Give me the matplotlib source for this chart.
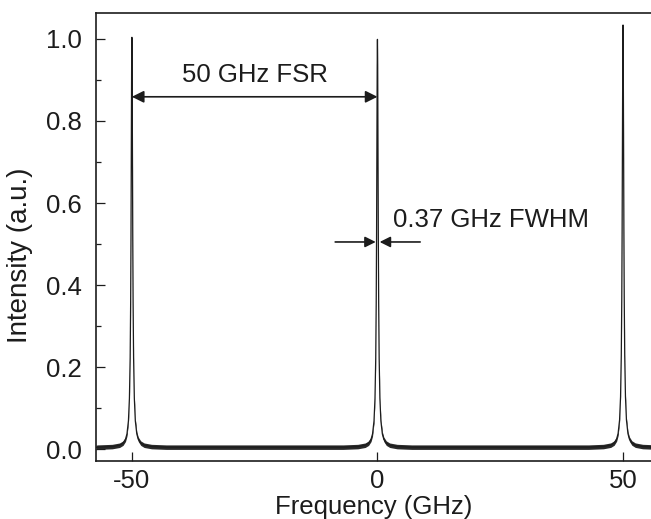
import numpy as np
import matplotlib

matplotlib.use("Agg")
import matplotlib.pyplot as plt
from matplotlib.ticker import MultipleLocator

# Peak positions (GHz) and heights (a.u.)
peak_centers = [-50.0, 0.0, 50.0]
peak_heights = [1.000, 0.995, 1.030]

# Line profile around each peak: offset from centre (GHz) and relative height
line_offsets = [-7.0, -4.0, -2.5, -1.8, -1.3, -1.0, -0.7, -0.5, -0.35, -0.25, -0.18,
                -0.1, -0.05, 0.0, 0.05, 0.1, 0.18, 0.25, 0.35, 0.5, 0.7, 1.0, 1.3,
                1.8, 2.5, 4.0, 7.0]
line_shape = [0.0007, 0.0021, 0.0054, 0.0105, 0.0199, 0.033, 0.065, 0.120, 0.218,
              0.354, 0.514, 0.774, 0.932, 1.0, 0.932, 0.774, 0.514, 0.354, 0.218,
              0.120, 0.065, 0.033, 0.0199, 0.0105, 0.0054, 0.0021, 0.0007]

baseline_level = 0.004
noise_halfwidth = 0.0055
span_edges = [-57.3, 55.7]

fsr_label = "50 GHz FSR"
fwhm_label = "0.37 GHz FWHM"
x_ticks = [-50, 0, 50]
x_ticklabels = ["-50", "0", "50"]
y_ticks = [0.0, 0.2, 0.4, 0.6, 0.8, 1.0]

# Assemble the spectrum from the peaks
freq = [span_edges[0]]
intensity = [baseline_level]
for centre, height in zip(peak_centers, peak_heights):
    for off, rel in zip(line_offsets, line_shape):
        freq.append(centre + off)
        intensity.append(baseline_level + height * rel)
freq.append(span_edges[1])
intensity.append(baseline_level)
freq = np.array(freq)
intensity = np.array(intensity)

plt.rcParams["font.family"] = ["Liberation Sans", "DejaVu Sans"]

fig = plt.figure(figsize=(6.51, 5.19), dpi=100)
ax = fig.add_axes([0.1475, 0.1118, 0.8525, 0.8637])

ink = "#1c1c1c"
fs = 18.5
ax.fill_between(freq, intensity - noise_halfwidth, intensity + noise_halfwidth,
                color="#2a2a2a", linewidth=0)
ax.plot(freq, intensity, color=ink, linewidth=0.9)

ax.set_xlim(span_edges[0], span_edges[1])
ax.set_ylim(-0.029, 1.064)

ax.set_xticks(x_ticks)
ax.set_xticklabels(x_ticklabels)
ax.set_yticks(y_ticks)
ax.set_yticklabels([f"{v:.1f}" for v in y_ticks])
ax.yaxis.set_minor_locator(MultipleLocator(0.1))

ax.tick_params(axis="both", which="major", direction="in", length=6.5, width=0.9,
               labelsize=fs, colors=ink)
ax.tick_params(axis="x", which="major", pad=6)
ax.tick_params(axis="y", which="major", pad=10)
ax.tick_params(axis="y", which="minor", direction="in", length=3.5, width=0.9,
               colors=ink)
ax.tick_params(axis="both", top=False, right=False)

for side in ("left", "bottom", "top"):
    ax.spines[side].set_linewidth(1.2)
    ax.spines[side].set_color(ink)
ax.spines["right"].set_visible(False)

ax.set_xlabel("Frequency (GHz)", fontsize=fs, color=ink, labelpad=1)
ax.set_ylabel("Intensity (a.u.)", fontsize=20, color=ink)
ax.yaxis.set_label_coords(-0.114, 0.458)

# FSR annotation between the first two peaks
fsr_y = 0.859
ax.annotate("", xy=(peak_centers[1], fsr_y), xytext=(peak_centers[0], fsr_y),
            arrowprops=dict(arrowstyle="<|-|>", color=ink, lw=1.2,
                            mutation_scale=18, shrinkA=0, shrinkB=0))
ax.text((peak_centers[0] + peak_centers[1]) / 2, fsr_y + 0.025, fsr_label,
        ha="center", va="bottom", fontsize=fs, color=ink)

# FWHM marker on the centre peak
fwhm_y = 0.505
ax.annotate("", xy=(peak_centers[1] - 0.35, fwhm_y), xytext=(peak_centers[1] - 8.6, fwhm_y),
            arrowprops=dict(arrowstyle="-|>", color=ink, lw=1.2,
                            mutation_scale=16, shrinkA=0, shrinkB=0))
ax.annotate("", xy=(peak_centers[1] + 0.45, fwhm_y), xytext=(peak_centers[1] + 8.7, fwhm_y),
            arrowprops=dict(arrowstyle="-|>", color=ink, lw=1.2,
                            mutation_scale=16, shrinkA=0, shrinkB=0))
ax.text(peak_centers[1] + 3.2, fwhm_y + 0.025, fwhm_label,
        ha="left", va="bottom", fontsize=fs, color=ink)

fig.savefig("out.png", dpi=100)
